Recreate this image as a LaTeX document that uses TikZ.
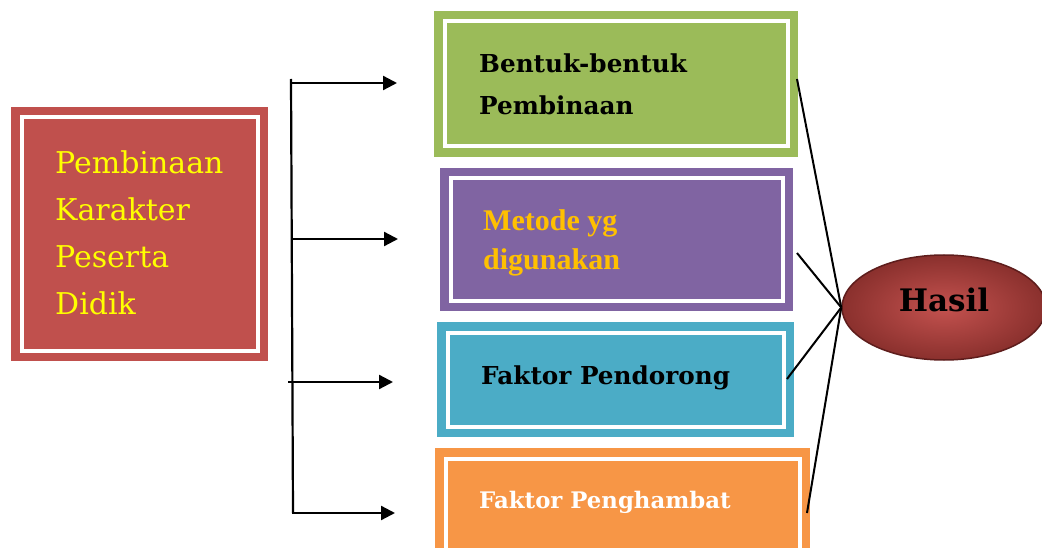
\documentclass[tikz,border=0pt]{standalone}
\usepackage{fontspec}
\setmainfont{DejaVu Serif}
\newfontfamily\timesfont{Liberation Serif}
\usetikzlibrary{shapes.geometric,arrows.meta}
\definecolor{cred}{HTML}{C0504D}
\definecolor{cgreen}{HTML}{9BBB59}
\definecolor{cpurple}{HTML}{8064A2}
\definecolor{cteal}{HTML}{4BACC6}
\definecolor{corange}{HTML}{F79646}
\definecolor{cyellow}{HTML}{FFFF00}
\definecolor{cgold}{HTML}{FFC000}
\definecolor{hasilin}{HTML}{C4524F}
\definecolor{hasilout}{HTML}{8A302D}
\definecolor{hasilborder}{HTML}{5E1D1C}
\begin{document}
\begin{tikzpicture}[x=1pt,y=-1pt,
  framebox/.style={rectangle, inner sep=0pt, outer sep=0pt, anchor=north west,
    path picture={\draw[white,line width=4pt]
      ([shift={(10.5pt,-10.5pt)}]path picture bounding box.north west) rectangle
      ([shift={(-10.5pt,10.5pt)}]path picture bounding box.south east);}},
  srctext/.style={anchor=base west, inner sep=0pt, text=cyellow, font=\fontsize{30}{30}\selectfont},
  cambtext/.style={anchor=base west, inner sep=0pt, font=\bfseries\fontsize{24.7}{24.7}\selectfont},
  timestext/.style={anchor=base west, inner sep=0pt, text=cgold, font=\timesfont\bfseries\fontsize{30}{30}\selectfont},
  branch/.style={line width=2.3pt, -{Triangle[length=14pt,width=14pt]}},
  trunk/.style={line width=2.2pt},
  link/.style={line width=2pt},
]
\clip (0,0) rectangle (1042,548);
\fill[white] (0,0) rectangle (1042,548);

% boxes
\node[framebox, fill=cred, minimum width=257pt, minimum height=254pt] (src) at (11,107) {};
\node[framebox, fill=cgreen, minimum width=364pt, minimum height=146pt] (green) at (434,11) {};
\node[framebox, fill=cpurple, minimum width=353pt, minimum height=143pt] (purple) at (440,168) {};
\node[framebox, fill=cteal, minimum width=357pt, minimum height=115pt] (teal) at (437,322) {};
\node[framebox, fill=corange, minimum width=375pt, minimum height=125pt] (orange) at (435,448) {};

% texts
\node[srctext] (s1) at (55,174) {Pembinaan};
\node[srctext] (s2) at (55,221) {Karakter};
\node[srctext] (s3) at (55,268) {Peserta};
\node[srctext] (s4) at (55,315) {Didik};

\node[cambtext] (g1) at (479,73) {Bentuk-bentuk};
\node[cambtext] (g2) at (479,115) {Pembinaan};

\node[timestext] (p1) at (483,231) {Metode yg};
\node[timestext] (p2) at (483,270) {digunakan};

\node[cambtext] (t1) at (481,384) {Faktor Pendorong};
\node[cambtext, text=white, font=\bfseries\fontsize{22.8}{22.8}\selectfont] (o1) at (479,508) {Faktor Penghambat};

% result ellipse
\node[ellipse, minimum width=204pt, minimum height=105pt, inner sep=0pt,
      draw=hasilborder, line width=1.5pt,
      inner color=hasilin, outer color=hasilout] (hasil) at (944,307.5) {};
\node[anchor=base, inner sep=0pt, font=\bfseries\fontsize{31}{31}\selectfont] (hasiltxt) at (944,312) {Hasil};

% trunk and branches
\coordinate (trTop) at (291,79);
\coordinate (trBot) at (293,513);
\draw[trunk] (trTop) -- (trBot);
\coordinate (b1s) at (291,83);  \coordinate (b1e) at (397,83);
\coordinate (b2s) at (291,239); \coordinate (b2e) at (398,239);
\coordinate (b3s) at (288,382); \coordinate (b3e) at (393,382);
\coordinate (b4s) at (292,513); \coordinate (b4e) at (395,513);
\draw[branch] (b1s) -- (b1e);
\draw[branch] (b2s) -- (b2e);
\draw[branch] (b3s) -- (b3e);
\draw[branch] (b4s) -- (b4e);

% links to result
\coordinate (gA) at (797,79);
\coordinate (pA) at (797,253);
\coordinate (tA) at (787,379);
\coordinate (oA) at (807,513);
\draw[link] (gA) -- (hasil.west);
\draw[link] (pA) -- (hasil.west);
\draw[link] (tA) -- (hasil.west);
\draw[link] (oA) -- (hasil.west);
\end{tikzpicture}
\end{document}
